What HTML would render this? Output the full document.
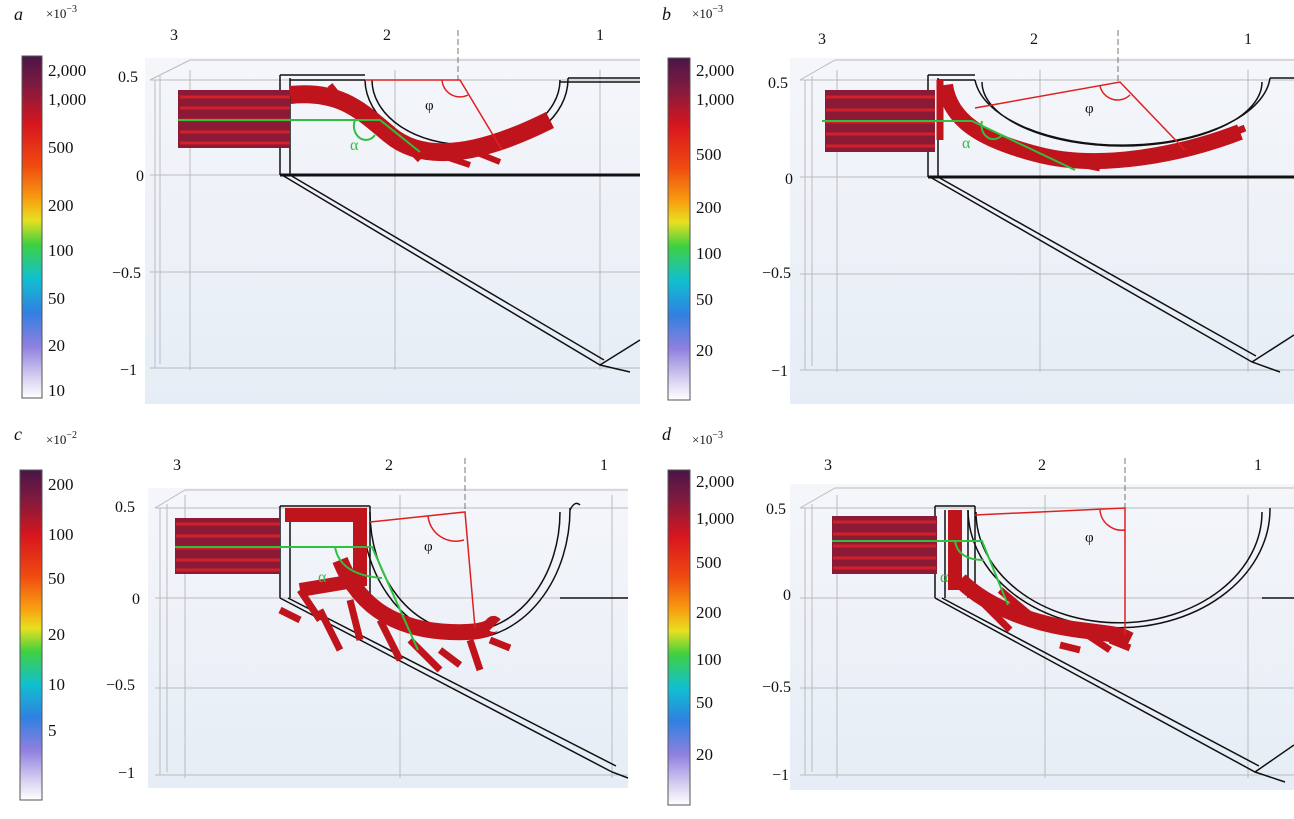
<!DOCTYPE html>
<html><head><meta charset="utf-8"><style>
body{margin:0;background:#fff;width:1294px;height:814px;overflow:hidden;font-family:"Liberation Serif",serif}
svg text{font-family:"Liberation Serif",serif;fill:#111}
</style></head><body>
<svg width="1294" height="814" viewBox="0 0 1294 814" xmlns="http://www.w3.org/2000/svg">
<defs>
<linearGradient id="cb" x1="0" y1="0" x2="0" y2="1">
<stop offset="0" stop-color="#4a1548"/><stop offset="0.08" stop-color="#7a1a40"/>
<stop offset="0.2" stop-color="#d8161e"/><stop offset="0.32" stop-color="#f04a10"/>
<stop offset="0.42" stop-color="#f8a010"/><stop offset="0.48" stop-color="#e8e020"/>
<stop offset="0.55" stop-color="#40d040"/><stop offset="0.65" stop-color="#10c0d0"/>
<stop offset="0.75" stop-color="#3080e0"/><stop offset="0.85" stop-color="#9080e0"/>
<stop offset="0.94" stop-color="#d8d0f0"/><stop offset="1" stop-color="#ffffff"/>
</linearGradient>
<linearGradient id="bg" x1="0" y1="0" x2="0" y2="1">
<stop offset="0" stop-color="#f4f6fa"/><stop offset="1" stop-color="#e6edf6"/>
</linearGradient>
</defs>

<!-- ===== Panel a ===== -->
<text x="14" y="20" font-size="18" font-style="italic">a</text>
<text x="46" y="18" font-size="13">×10<tspan dy="-6" font-size="10">−3</tspan></text>
<rect x="22" y="56" width="20" height="342" fill="url(#cb)" stroke="#555"/>
<g font-size="17"><text x="48" y="76">2,000</text><text x="48" y="105">1,000</text><text x="48" y="153">500</text><text x="48" y="211">200</text><text x="48" y="256">100</text><text x="48" y="304">50</text><text x="48" y="351">20</text><text x="48" y="396">10</text></g>
<rect x="145" y="58" width="495" height="346" fill="url(#bg)"/>
<g stroke="#bbb" stroke-width="1" fill="none">
<path d="M150 80H640M150 175H640M150 272H640M150 368H640M190 70V370M395 70V370M600 70V370M150 80L190 60H640M155 80V368M160 76V364"/>
</g>
<g font-size="16"><text x="170" y="40">3</text><text x="383" y="40">2</text><text x="596" y="40">1</text>
<text x="118" y="82">0.5</text><text x="136" y="181">0</text><text x="112" y="278">−0.5</text><text x="120" y="375">−1</text></g>
<path d="M458 30V80" stroke="#777" stroke-dasharray="6 3"/>
<g stroke="#111" fill="none" stroke-width="1.5">
<path d="M280 75V175M290 78V175M280 75H365M290 80H365"/>
<path d="M280 175H640" stroke-width="3"/>
<path d="M365 80A100 72 0 0 0 568 78M372 80A93 64 0 0 0 560 80"/>
<path d="M568 78H640M560 82H640"/>
<path d="M282 175L600 365L630 372M290 175L604 360M600 365L640 340"/>
</g>
<g stroke="#c0141c" stroke-linecap="butt" fill="none">
<rect x="178" y="90" width="112" height="58" fill="#8b1a36" stroke="none"/>
<path d="M180 97H290M180 108H290M180 120H290M180 132H290M180 143H290" stroke="#d0202a" stroke-width="3"/>
<path d="M290 95C340 90 360 110 390 135S470 160 550 120" stroke-width="18"/>
<path d="M330 85L350 110M400 140L420 160M470 150L500 162M510 140L540 128M440 155L470 165" stroke-width="6"/>
</g>
<path d="M178 120H380L420 152" stroke="#30c040" stroke-width="2" fill="none"/>
<path d="M355 120A12 14 0 0 0 375 135" stroke="#30c040" stroke-width="2" fill="none"/>
<text x="350" y="150" font-size="16" fill="#30c040" style="fill:#30c040" font-family="Liberation Sans">α</text>
<path d="M365 80H460L502 150" stroke="#e02020" stroke-width="1.5" fill="none"/>
<path d="M442 80A18 18 0 0 0 468 95" stroke="#e02020" stroke-width="1.5" fill="none"/>
<text x="425" y="110" font-size="15">φ</text>

<!-- ===== Panel b ===== -->
<text x="662" y="20" font-size="18" font-style="italic">b</text>
<text x="692" y="18" font-size="13">×10<tspan dy="-6" font-size="10">−3</tspan></text>
<rect x="668" y="58" width="22" height="342" fill="url(#cb)" stroke="#555"/>
<g font-size="17"><text x="696" y="76">2,000</text><text x="696" y="105">1,000</text><text x="696" y="160">500</text><text x="696" y="213">200</text><text x="696" y="259">100</text><text x="696" y="305">50</text><text x="696" y="356">20</text></g>
<rect x="790" y="58" width="504" height="346" fill="url(#bg)"/>
<g stroke="#bbb" fill="none">
<path d="M800 80H1294M800 177H1294M800 274H1294M800 370H1294M837 70V372M1040 70V372M1248 70V372M800 80L835 60H1294M805 80V370M812 76V366"/>
</g>
<g font-size="16"><text x="818" y="44">3</text><text x="1030" y="44">2</text><text x="1244" y="44">1</text>
<text x="768" y="88">0.5</text><text x="785" y="184">0</text><text x="762" y="278">−0.5</text><text x="771" y="376">−1</text></g>
<path d="M1118 30V82" stroke="#777" stroke-dasharray="6 3"/>
<g stroke="#111" fill="none" stroke-width="1.5">
<path d="M928 75V177M938 78V177M928 75H975M938 80H975"/>
<path d="M928 177H1294" stroke-width="3"/>
<path d="M975 80A148 72 0 0 0 1270 78M982 82A140 64 0 0 0 1262 82"/>
<path d="M1270 78H1294"/>
<path d="M930 177L1252 362L1280 372M938 177L1256 356M1252 362L1294 335"/>
</g>
<g stroke="#c0141c" fill="none">
<rect x="825" y="90" width="110" height="62" fill="#8b1a36" stroke="none"/>
<path d="M826 97H935M826 110H935M826 122H935M826 134H935M826 146H935" stroke="#d0202a" stroke-width="3"/>
<path d="M945 85C950 120 980 140 1040 155S1180 155 1240 132" stroke-width="16"/>
<path d="M940 80V140M960 110L975 130M1060 160L1100 168M1180 150L1210 145M1215 140L1245 128" stroke-width="7"/>
</g>
<path d="M822 121H972L1075 170" stroke="#30c040" stroke-width="2" fill="none"/>
<path d="M982 121A12 14 0 0 0 1002 135" stroke="#30c040" stroke-width="2" fill="none"/>
<text x="962" y="148" font-size="16" style="fill:#30c040" font-family="Liberation Sans">α</text>
<path d="M975 108L1120 82L1185 150" stroke="#e02020" stroke-width="1.5" fill="none"/>
<path d="M1100 86A18 18 0 0 0 1130 95" stroke="#e02020" stroke-width="1.5" fill="none"/>
<text x="1085" y="113" font-size="15">φ</text>

<!-- ===== Panel c ===== -->
<text x="14" y="440" font-size="18" font-style="italic">c</text>
<text x="46" y="444" font-size="13">×10<tspan dy="-6" font-size="10">−2</tspan></text>
<rect x="20" y="470" width="22" height="330" fill="url(#cb)" stroke="#555"/>
<g font-size="17"><text x="48" y="490">200</text><text x="48" y="540">100</text><text x="48" y="584">50</text><text x="48" y="640">20</text><text x="48" y="690">10</text><text x="48" y="736">5</text></g>
<rect x="148" y="488" width="480" height="300" fill="url(#bg)"/>
<g stroke="#bbb" fill="none">
<path d="M155 508H628M155 598H628M155 688H628M155 775H628M185 495V778M400 495V778M612 495V778M155 508L185 490H628M160 508V775M167 504V772"/>
</g>
<g font-size="16"><text x="173" y="470">3</text><text x="385" y="470">2</text><text x="600" y="470">1</text>
<text x="115" y="512">0.5</text><text x="132" y="604">0</text><text x="106" y="690">−0.5</text><text x="118" y="778">−1</text></g>
<path d="M465 458V512" stroke="#777" stroke-dasharray="6 3"/>
<g stroke="#111" fill="none" stroke-width="1.5">
<path d="M280 506V598M290 510V598M280 506H370M290 510H360M370 506V600M362 510V598"/>
<path d="M362 510A100 125 0 0 0 570 508M370 512A93 117 0 0 0 560 512"/>
<path d="M570 510Q575 500 580 505M560 598H628"/>
<path d="M280 598L612 772L628 778M288 598L616 766"/>
</g>
<g stroke="#c0141c" fill="none">
<rect x="175" y="518" width="105" height="56" fill="#8b1a36" stroke="none"/>
<path d="M176 524H280M176 536H280M176 548H280M176 560H280M176 570H280" stroke="#d0202a" stroke-width="3"/>
<path d="M285 515H360V580L300 590" stroke-width="14"/>
<path d="M340 560C360 610 400 630 450 632S490 620 495 625" stroke-width="16"/>
<path d="M300 590L320 620M320 610L340 650M380 620L400 660M410 640L440 670M440 650L460 665M470 640L480 670M490 640L510 648M350 600L360 640M300 620L280 610" stroke-width="7"/>
</g>
<path d="M175 547H372L418 650" stroke="#30c040" stroke-width="2" fill="none"/>
<path d="M335 547Q340 575 382 578" stroke="#30c040" stroke-width="2" fill="none"/>
<text x="318" y="582" font-size="16" style="fill:#30c040" font-family="Liberation Sans">α</text>
<path d="M370 522L465 512L475 628" stroke="#e02020" stroke-width="1.5" fill="none"/>
<path d="M428 516A28 28 0 0 0 464 540" stroke="#e02020" stroke-width="1.5" fill="none"/>
<text x="424" y="551" font-size="15">φ</text>

<!-- ===== Panel d ===== -->
<text x="662" y="440" font-size="18" font-style="italic">d</text>
<text x="692" y="444" font-size="13">×10<tspan dy="-6" font-size="10">−3</tspan></text>
<rect x="668" y="470" width="22" height="335" fill="url(#cb)" stroke="#555"/>
<g font-size="17"><text x="696" y="487">2,000</text><text x="696" y="524">1,000</text><text x="696" y="568">500</text><text x="696" y="618">200</text><text x="696" y="665">100</text><text x="696" y="708">50</text><text x="696" y="760">20</text></g>
<rect x="790" y="484" width="504" height="306" fill="url(#bg)"/>
<g stroke="#bbb" fill="none">
<path d="M800 508H1294M800 598H1294M800 688H1294M800 775H1294M837 495V778M1045 495V778M1248 495V778M800 508L835 488H1294M805 508V775M812 504V772"/>
</g>
<g font-size="16"><text x="824" y="470">3</text><text x="1038" y="470">2</text><text x="1254" y="470">1</text>
<text x="766" y="514">0.5</text><text x="783" y="600">0</text><text x="762" y="692">−0.5</text><text x="772" y="780">−1</text></g>
<path d="M1125 458V510" stroke="#777" stroke-dasharray="6 3"/>
<g stroke="#111" fill="none" stroke-width="1.5">
<path d="M935 506V598M945 510V598M935 506H975M975 506V600M968 510V598"/>
<path d="M968 510A150 118 0 0 0 1270 508M976 512A142 110 0 0 0 1262 512"/>
<path d="M1262 598H1294"/>
<path d="M935 598L1255 772L1285 782M942 598L1259 766M1255 772L1294 745"/>
</g>
<g stroke="#c0141c" fill="none">
<rect x="832" y="516" width="105" height="58" fill="#8b1a36" stroke="none"/>
<path d="M833 522H936M833 534H936M833 546H936M833 558H936M833 568H936" stroke="#d0202a" stroke-width="3"/>
<path d="M955 510V590" stroke-width="14"/>
<path d="M960 580C990 610 1040 625 1080 630S1120 635 1130 640" stroke-width="16"/>
<path d="M980 600L1010 630M1060 645L1080 650M1080 630L1110 650M1110 640L1130 648M1000 590L1030 615" stroke-width="7"/>
</g>
<path d="M832 541H982L1008 605" stroke="#30c040" stroke-width="2" fill="none"/>
<path d="M955 541Q958 560 984 560" stroke="#30c040" stroke-width="2" fill="none"/>
<text x="940" y="582" font-size="16" style="fill:#30c040" font-family="Liberation Sans">α</text>
<path d="M975 515L1125 508V635" stroke="#e02020" stroke-width="1.5" fill="none"/>
<path d="M1100 510A22 22 0 0 0 1125 530" stroke="#e02020" stroke-width="1.5" fill="none"/>
<text x="1085" y="542" font-size="15">φ</text>
</svg>
</body></html>
